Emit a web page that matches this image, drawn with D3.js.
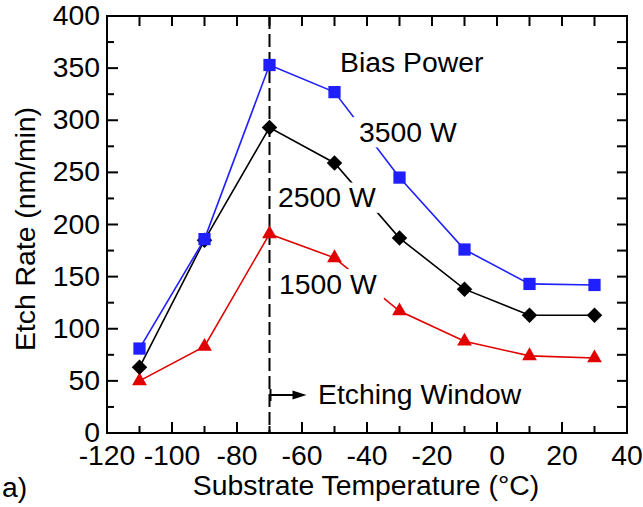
<!DOCTYPE html>
<html>
<head>
<meta charset="utf-8">
<script src="https://cdn.jsdelivr.net/npm/d3@7"></script>
<style>
  body { margin: 0; background: #fff; }
  text { font-family: "Liberation Sans", Arial, sans-serif; fill: #000; }
</style>
</head>
<body>
<svg id="chart" width="643" height="507"></svg>
<script>
// Etch rate vs substrate temperature at three bias powers
const temps = [-110, -90, -70, -50, -30, -10, 10, 30];
const rate3500 = [81, 186, 353, 327, 245, 176, 143, 142];
const rate2500 = [63, 185, 293, 259, 187, 138, 113, 113];
const rate1500 = [50, 83, 191, 168, 117, 88, 74, 72];
const xTicks = [-120, -100, -80, -60, -40, -20, 0, 20, 40];
const yTicks = [0, 50, 100, 150, 200, 250, 300, 350, 400];
const windowStart = -70;

const svg = d3.select("#chart");
const plotL = 107, plotR = 627, plotT = 16, plotB = 433;

const x = d3.scaleLinear().domain([-120, 40]).range([plotL, plotR]);
const y = d3.scaleLinear().domain([0, 400]).range([plotB, plotT]);

const fontSize = 27;
const stretch = 1.05;

// text drawn with a slight horizontal stretch; returns its group
function label(parent, px, py, str, anchor, rotate) {
  const g = parent.append("g")
    .attr("transform", `translate(${px},${py})` + (rotate ? ` rotate(${rotate})` : "") + ` scale(${stretch},1)`);
  g.append("text").attr("text-anchor", anchor || "start")
    .attr("font-size", fontSize).text(str);
  return g;
}

// frame
svg.append("rect")
  .attr("x", plotL).attr("y", plotT)
  .attr("width", plotR - plotL).attr("height", plotB - plotT)
  .attr("fill", "none").attr("stroke", "#000").attr("stroke-width", 2);

// inward ticks: longer majors on bottom/left, uniform on top/right
const xMajor = xTicks.slice(1, -1);
const xMinor = d3.range(-110, 40, 20);
const yMajor = yTicks.slice(1, -1);
const yMinor = d3.range(25, 400, 50);
const tickG = svg.append("g").attr("stroke", "#000").attr("stroke-width", 2);
function xTickMarks(values, len) {
  values.forEach(v => {
    tickG.append("line").attr("x1", x(v)).attr("x2", x(v)).attr("y1", plotB).attr("y2", plotB - len);
    tickG.append("line").attr("x1", x(v)).attr("x2", x(v)).attr("y1", plotT).attr("y2", plotT + 10);
  });
}
function yTickMarks(values, len) {
  values.forEach(v => {
    tickG.append("line").attr("y1", y(v)).attr("y2", y(v)).attr("x1", plotL).attr("x2", plotL + len);
    tickG.append("line").attr("y1", y(v)).attr("y2", y(v)).attr("x1", plotR).attr("x2", plotR - 10);
  });
}
xTickMarks(xMajor, 11);
xTickMarks(xMinor, 7);
yTickMarks(yMajor, 11);
yTickMarks(yMinor, 7);

// tick labels
xTicks.forEach(v => label(svg, x(v), plotB + 32, v, "middle"));
yTicks.forEach(v => label(svg, plotL - 7, y(v) + 9, v, "end"));

// axis titles
label(svg, 366, 495, "Substrate Temperature (°C)", "middle");
label(svg, 35, 229, "Etch Rate (nm/min)", "middle", -90);
label(svg, 2, 497, "a)", "start");

// etching window boundary
svg.append("line")
  .attr("x1", x(windowStart)).attr("x2", x(windowStart))
  .attr("y1", plotT).attr("y2", plotB)
  .attr("stroke", "#000").attr("stroke-width", 2)
  .attr("stroke-dasharray", "13,5");

// series (drawn so that 3500 W ends up on top)
const series = [
  { values: rate1500, color: "#e00000", shape: d3.symbolTriangle, size: 95, angle: 0 },
  { values: rate2500, color: "#000000", shape: d3.symbolSquare, size: 120, angle: 45 },
  { values: rate3500, color: "#1f1fff", shape: d3.symbolSquare, size: 150, angle: 0 }
];
const line = d3.line().x(d => x(d[0])).y(d => y(d[1]));

series.forEach(s => {
  const pts = temps.map((t, i) => [t, s.values[i]]);
  svg.append("path").datum(pts).attr("d", line)
    .attr("fill", "none").attr("stroke", s.color).attr("stroke-width", 1.6);
});

// curve labels sit on white boxes that break the lines beneath them
const labels = [
  { text: "Bias Power", x: 340, y: 72, box: false },
  { text: "3500 W", x: 359, y: 141.5, box: true },
  { text: "2500 W", x: 278, y: 207, box: true },
  { text: "1500 W", x: 279, y: 293.5, box: true }
];
labels.forEach(l => {
  const g = label(svg, l.x, l.y, l.text, "start");
  if (l.box) {
    const b = g.select("text").node().getBBox();
    g.insert("rect", "text")
      .attr("x", b.x - 6).attr("y", b.y)
      .attr("width", b.width + 12).attr("height", b.height)
      .attr("fill", "#fff");
  }
});

// markers
series.forEach(s => {
  svg.append("g").selectAll("path").data(temps.map((t, i) => [t, s.values[i]])).join("path")
    .attr("transform", d => `translate(${x(d[0])},${y(d[1])}) rotate(${s.angle})`)
    .attr("d", d3.symbol().type(s.shape).size(s.size))
    .attr("fill", s.color);
});

// etching window arrow
const ay = 395;
const ax0 = x(windowStart) + 1, ax1 = ax0 + 36;
svg.append("line").attr("x1", ax0).attr("x2", ax0).attr("y1", ay - 6).attr("y2", ay + 6)
  .attr("stroke", "#000").attr("stroke-width", 2);
svg.append("line").attr("x1", ax0).attr("x2", ax1 - 10).attr("y1", ay).attr("y2", ay)
  .attr("stroke", "#000").attr("stroke-width", 2);
svg.append("path")
  .attr("d", `M${ax1},${ay} L${ax1 - 14},${ay - 4.5} L${ax1 - 14},${ay + 4.5} Z`)
  .attr("fill", "#000");
label(svg, 318, 404, "Etching Window", "start");
</script>
</body>
</html>
